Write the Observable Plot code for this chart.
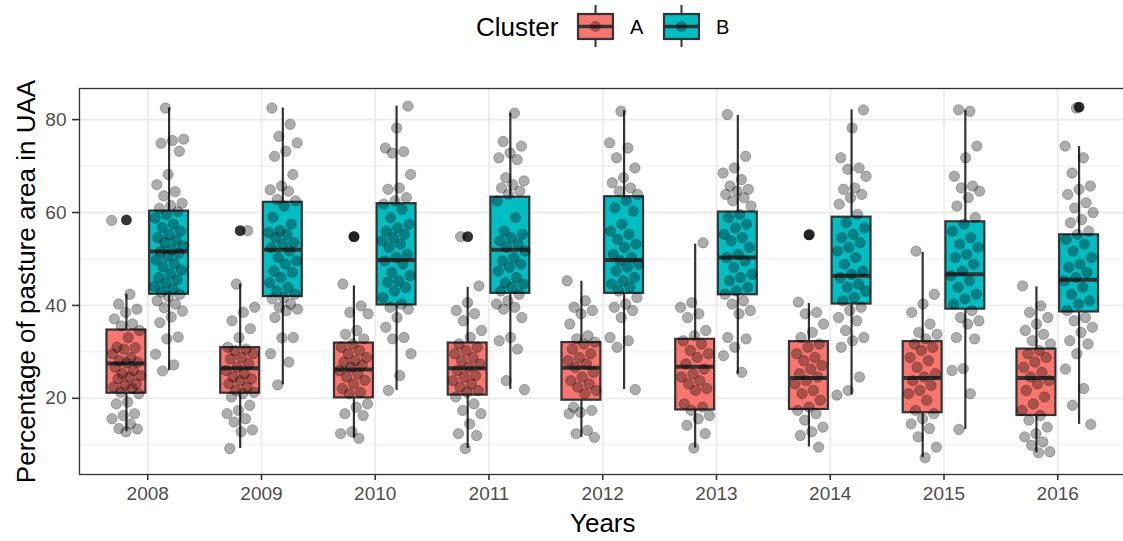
<!DOCTYPE html>
<html><head><meta charset="utf-8">
<script src="https://cdn.jsdelivr.net/npm/d3@7"></script>
<script src="https://cdn.jsdelivr.net/npm/@observablehq/plot@0.6"></script>
<style>
html,body{margin:0;padding:0;background:#fff;overflow:hidden}
body{width:1123px;height:541px;font-family:"Liberation Sans",Arial,sans-serif}
#legend{height:56px}
#legend svg,#chart svg{display:block}
</style></head><body>
<div id="legend"></div><div id="chart"></div>
<script>
const years = [2008, 2009, 2010, 2011, 2012, 2013, 2014, 2015, 2016];
const clusters = ["A", "B"];
const clusterColors = ["#F8766D", "#00BFC4"];
const yTicks = [20, 40, 60, 80];
const yMinor = [10, 30, 50, 70];
const xTitle = "Years";
const yTitle = "Percentage of pasture area in UAA";
const legendTitle = "Cluster";

// box statistics, cluster A
const loA  = [12.8, 9.2, 11.4, 9.2, 11.6, 9.3, 9.5, 7.2, 8.3];
const q1A  = [21.1, 21.1, 20.1, 20.7, 19.6, 17.5, 17.6, 16.9, 16.3];
const medA = [27.5, 26.5, 26.2, 26.5, 26.6, 26.8, 24.4, 24.4, 24.4];
const q3A  = [34.7, 30.9, 31.9, 31.9, 32.0, 32.7, 32.2, 32.2, 30.6];
const hiA  = [42.4, 44.6, 44.2, 43.9, 45.2, 53.2, 40.4, 51.4, 44.0];
// box statistics, cluster B
const loB  = [25.9, 22.9, 21.7, 21.9, 21.9, 25.2, 20.7, 13.3, 14.4];
const q1B  = [42.4, 41.9, 40.1, 42.6, 42.6, 42.3, 40.3, 39.2, 38.6];
const medB = [51.6, 52.0, 49.8, 52.0, 49.8, 50.3, 46.4, 46.7, 45.5];
const q3B  = [60.3, 62.2, 61.9, 63.3, 63.4, 60.1, 59.0, 58.0, 55.2];
const hiB  = [82.5, 82.5, 82.9, 81.4, 81.9, 80.9, 82.1, 82.0, 74.2];
// outliers
const outYear    = [2008, 2009, 2010, 2011, 2014, 2016];
const outCluster = ["A", "A", "A", "A", "A", "B"];
const outValue   = [58.4, 56.1, 54.8, 54.8, 55.2, 82.7];

// observations (jittered points), cluster A, one list per year
const ptsA = [
  [58.3, 42.4, 40.3, 39.2, 38.5, 37.1, 36.0, 35.6, 34.6, 33.1, 31.0, 30.9, 30.6, 29.6, 28.8, 28.1, 27.8, 27.6, 26.7, 26.0, 25.3, 24.9, 24.6, 24.2, 23.1, 22.8, 22.4, 22.1, 21.3, 21.0, 19.2, 18.8, 16.7, 16.3, 15.6, 14.5, 13.5, 13.4, 12.8],
  [56.1, 44.6, 39.6, 38.5, 36.7, 35.0, 33.1, 31.0, 30.6, 30.3, 29.6, 28.8, 28.5, 27.4, 26.7, 26.0, 25.3, 24.6, 24.2, 23.8, 23.1, 22.4, 21.7, 21.3, 21.0, 20.3, 18.5, 17.4, 16.7, 15.6, 14.9, 13.2, 12.8, 9.2],
  [54.8, 44.6, 39.9, 38.5, 38.2, 34.6, 33.8, 32.8, 31.7, 31.0, 30.3, 29.6, 28.8, 28.1, 27.8, 27.1, 26.7, 26.0, 25.3, 24.6, 23.9, 23.1, 22.1, 21.3, 21.0, 18.8, 18.1, 16.7, 16.3, 12.8, 12.4, 11.4],
  [54.8, 44.2, 40.6, 38.9, 38.2, 36.7, 34.6, 33.1, 31.7, 31.0, 30.3, 29.6, 28.8, 28.1, 27.4, 26.7, 26.0, 24.9, 24.6, 23.8, 23.1, 22.4, 21.7, 21.3, 20.3, 18.8, 17.4, 16.7, 14.5, 12.4, 12.0, 9.2],
  [45.3, 41.0, 39.6, 38.9, 38.2, 36.0, 33.5, 32.8, 32.1, 31.7, 30.6, 29.6, 28.8, 28.1, 27.4, 26.7, 25.6, 24.6, 23.8, 23.1, 22.4, 21.7, 21.0, 18.1, 17.4, 17.0, 16.7, 13.1, 12.4, 11.6],
  [53.5, 40.6, 39.6, 38.2, 37.4, 34.6, 33.5, 32.4, 31.7, 30.3, 29.6, 28.8, 27.4, 26.3, 25.3, 24.6, 23.8, 23.1, 22.1, 21.7, 18.8, 18.1, 17.4, 16.3, 15.6, 14.2, 12.4, 9.3],
  [55.3, 40.7, 38.5, 38.2, 36.0, 34.2, 33.1, 31.7, 31.0, 29.6, 28.8, 28.1, 27.1, 26.3, 25.3, 24.6, 23.8, 23.1, 21.7, 21.0, 19.6, 18.1, 17.4, 16.7, 15.3, 13.8, 12.8, 12.0, 9.5],
  [51.7, 42.4, 40.3, 38.5, 36.0, 34.2, 33.8, 32.8, 31.7, 31.0, 30.3, 28.8, 28.1, 26.7, 25.3, 24.6, 23.8, 22.8, 21.7, 21.0, 19.6, 17.4, 16.7, 15.6, 14.5, 13.5, 11.7, 9.5, 7.2],
  [44.2, 39.9, 38.5, 37.4, 36.0, 34.6, 33.8, 32.4, 31.7, 30.3, 29.6, 28.8, 27.8, 26.7, 25.6, 24.6, 23.8, 23.1, 21.7, 20.3, 18.8, 17.4, 16.3, 15.3, 13.8, 12.4, 11.7, 10.6, 9.9, 8.5, 8.3]
];
// observations (jittered points), cluster B, one list per year
const ptsB = [
  [82.5, 75.8, 75.5, 74.9, 73.2, 68.2, 66.0, 64.5, 63.6, 62.0, 61.5, 60.9, 60.2, 59.5, 58.8, 57.5, 56.8, 56.0, 55.2, 54.6, 54.0, 53.5, 52.8, 52.0, 51.6, 51.2, 50.5, 49.8, 49.0, 48.3, 47.6, 46.8, 46.0, 45.5, 44.8, 44.1, 43.5, 42.9, 42.4, 41.9, 41.0, 40.3, 39.5, 38.8, 37.5, 36.3, 33.2, 32.8, 29.5, 27.2, 25.9],
  [82.5, 79.0, 76.4, 75.0, 73.2, 72.1, 68.2, 65.7, 64.9, 64.6, 62.8, 62.5, 61.4, 59.0, 57.5, 56.1, 55.7, 55.3, 54.6, 53.5, 53.2, 52.4, 51.7, 50.3, 49.6, 48.9, 47.4, 47.1, 46.0, 44.9, 43.9, 43.1, 42.4, 41.7, 41.4, 40.3, 39.6, 39.2, 38.9, 37.4, 33.1, 33.0, 29.6, 27.8, 22.9],
  [82.9, 78.2, 73.9, 73.1, 72.8, 68.2, 65.3, 65.0, 63.2, 62.5, 61.8, 60.7, 58.9, 57.5, 56.7, 56.0, 55.3, 54.6, 53.9, 53.2, 52.5, 51.0, 50.3, 49.6, 48.9, 47.1, 46.4, 45.3, 45.0, 43.9, 43.1, 41.7, 40.3, 39.6, 39.2, 37.4, 35.3, 33.1, 32.8, 29.6, 24.9, 21.7],
  [81.4, 75.3, 74.3, 72.8, 71.8, 71.4, 67.5, 66.8, 66.0, 65.3, 64.6, 63.9, 62.5, 58.9, 56.0, 55.3, 54.6, 53.9, 53.2, 52.5, 51.7, 50.3, 49.6, 48.9, 48.2, 47.4, 46.0, 44.9, 44.6, 43.9, 43.1, 42.4, 41.0, 40.3, 39.6, 39.2, 37.4, 33.1, 32.4, 30.6, 23.8, 21.9],
  [81.8, 75.0, 73.9, 71.8, 69.6, 67.5, 66.4, 65.3, 64.6, 63.9, 62.5, 61.0, 60.3, 57.5, 56.0, 55.3, 54.2, 53.2, 52.5, 51.0, 50.3, 49.6, 48.9, 48.2, 47.4, 46.0, 45.3, 44.6, 43.9, 43.1, 41.7, 40.3, 39.6, 38.9, 37.4, 33.1, 32.4, 31.0, 21.9],
  [81.1, 72.1, 69.6, 68.5, 67.1, 65.7, 65.0, 64.6, 63.9, 63.2, 62.5, 61.4, 59.6, 58.9, 57.5, 56.7, 55.3, 54.6, 53.9, 52.5, 51.0, 50.3, 49.6, 48.2, 46.7, 46.0, 45.3, 43.9, 43.1, 42.4, 41.0, 40.3, 38.9, 38.2, 33.1, 32.8, 31.0, 29.2, 25.6],
  [82.1, 78.2, 71.8, 69.6, 69.3, 67.8, 65.3, 65.0, 63.9, 63.2, 61.8, 59.6, 57.8, 56.7, 55.3, 54.6, 53.5, 52.5, 51.7, 50.3, 48.9, 47.4, 46.7, 46.0, 44.6, 43.9, 43.1, 41.7, 41.0, 39.6, 38.9, 37.4, 36.7, 34.6, 33.1, 32.4, 31.0, 24.6, 21.7, 20.7],
  [81.8, 82.1, 74.3, 71.8, 67.8, 65.7, 65.3, 64.6, 63.2, 61.4, 58.9, 57.5, 56.0, 54.6, 53.2, 52.5, 51.0, 50.3, 48.9, 47.4, 46.4, 45.3, 43.9, 42.4, 41.4, 40.3, 38.9, 37.4, 36.7, 36.0, 33.1, 32.8, 26.4, 26.0, 21.0, 13.3],
  [82.5, 74.3, 71.8, 68.5, 65.7, 65.0, 63.9, 62.1, 61.0, 60.0, 58.5, 57.8, 56.0, 55.3, 54.2, 53.2, 51.7, 50.3, 48.9, 48.2, 47.1, 46.0, 45.3, 43.9, 42.4, 41.0, 40.3, 38.9, 37.4, 36.7, 35.3, 34.2, 32.4, 31.7, 29.6, 26.3, 22.1, 18.5, 14.4]
];

// ---- build tables ----
const dodge = {A: -0.1875, B: 0.1875};
const halfBox = 0.171;
const jitterWidth = 0.26;
const boxes = [];
years.forEach((yr, i) => {
  boxes.push({year: yr, cluster: "A", lo: loA[i], q1: q1A[i], med: medA[i], q3: q3A[i], hi: hiA[i]});
  boxes.push({year: yr, cluster: "B", lo: loB[i], q1: q1B[i], med: medB[i], q3: q3B[i], hi: hiB[i]});
});
const outs = outYear.map((yr, i) => ({year: yr, cluster: outCluster[i], value: outValue[i]}));
const points = [];
years.forEach((yr, i) => {
  [["A", ptsA[i]], ["B", ptsB[i]]].forEach(([c, arr], k) => {
    const g = i * 2 + k;
    arr.forEach((v, j) => {
      const f = ((j * 0.6180339887 + g * 0.377) % 1) - 0.5;
      points.push({year: yr, cluster: c, value: v, jit: f * jitterWidth});
    });
  });
});
const xc = d => d.year + dodge[d.cluster];

const font = '"Liberation Sans", Arial, sans-serif';
const ink = "#333333";

const chart = Plot.plot({
  width: 1123, height: 485,
  marginLeft: 79, marginRight: -2.5, marginTop: 32, marginBottom: 67,
  style: {fontFamily: font, background: "white", overflow: "hidden"},
  x: {domain: [2007.4, 2016.6], axis: null},
  y: {domain: [3.6, 86.7], axis: null},
  color: {domain: clusters, range: clusterColors},
  marks: [
    Plot.ruleY(yMinor, {stroke: "#EDEDED", strokeWidth: 1}),
    Plot.ruleY(yTicks, {stroke: "#EBEBEB", strokeWidth: 1.8}),
    Plot.ruleX(years, {stroke: "#EBEBEB", strokeWidth: 1.8}),
    Plot.ruleX(boxes, {x: xc, y1: "q3", y2: "hi", stroke: ink, strokeWidth: 2.2}),
    Plot.ruleX(boxes, {x: xc, y1: "lo", y2: "q1", stroke: ink, strokeWidth: 2.2}),
    Plot.rect(boxes, {x1: d => xc(d) - halfBox, x2: d => xc(d) + halfBox, y1: "q1", y2: "q3", fill: "cluster", stroke: ink, strokeWidth: 2.2}),
    Plot.ruleY(boxes, {x1: d => xc(d) - halfBox, x2: d => xc(d) + halfBox, y: "med", stroke: ink, strokeWidth: 4}),
    Plot.dot(outs, {x: xc, y: "value", r: 5.4, fill: ink, stroke: null}),
    Plot.dot(points, {x: d => xc(d) + d.jit, y: "value", r: 5.2, fill: "black", fillOpacity: 0.32, stroke: "black", strokeOpacity: 0.25, strokeWidth: 1}),
    Plot.frame({stroke: ink, strokeWidth: 1.3}),
    Plot.axisX(years, {label: null, tickSize: 6, tickPadding: 6, tickFormat: d => String(d), fontSize: 19, stroke: ink, strokeWidth: 1.6, fill: "#4D4D4D"}),
    Plot.axisY(yTicks, {label: null, tickSize: 7, tickPadding: 6, tickFormat: d => String(d), fontSize: 19, stroke: ink, strokeWidth: 1.6, fill: "#4D4D4D"}),
    Plot.text([yTitle], {text: d => d, frameAnchor: "left", dx: -53, rotate: -90, textAnchor: "middle", lineAnchor: "middle", fontSize: 26, fill: "black"}),
    Plot.text([xTitle], {text: d => d, frameAnchor: "bottom", dy: 49, textAnchor: "middle", lineAnchor: "middle", fontSize: 26, fill: "black"})
  ]
});
document.getElementById("chart").appendChild(chart);

// ---- legend ----
const lg = d3.select("#legend").append("svg")
  .attr("width", 1123).attr("height", 56)
  .style("font-family", font);
lg.append("text").attr("x", 476).attr("y", 36).attr("font-size", 26).attr("fill", "black").text(legendTitle);
clusters.forEach((c, i) => {
  const x0 = 578 + i * 86, w = 35, cx = x0 + w / 2;
  const g = lg.append("g");
  g.append("line").attr("x1", cx).attr("x2", cx).attr("y1", 5).attr("y2", 47).attr("stroke", ink).attr("stroke-width", 2);
  g.append("rect").attr("x", x0).attr("y", 14).attr("width", w).attr("height", 25)
    .attr("fill", clusterColors[i]).attr("stroke", ink).attr("stroke-width", 2.2);
  g.append("line").attr("x1", x0).attr("x2", x0 + w).attr("y1", 26.5).attr("y2", 26.5).attr("stroke", ink).attr("stroke-width", 3.5);
  g.append("circle").attr("cx", cx).attr("cy", 26.5).attr("r", 5)
    .attr("fill", "black").attr("fill-opacity", 0.32).attr("stroke", "black").attr("stroke-opacity", 0.25);
  g.append("text").attr("x", x0 + 52).attr("y", 34).attr("font-size", 20).attr("fill", "black").text(c);
});
</script>
</body></html>
